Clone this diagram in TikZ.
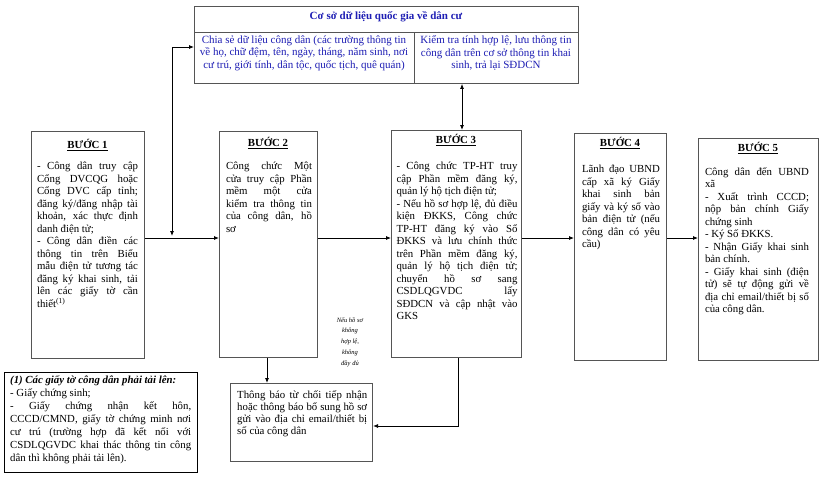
\documentclass[tikz,border=0pt]{standalone}
\usepackage{fontspec}
\setmainfont{Liberation Serif}
\usetikzlibrary{arrows.meta}
\definecolor{dbblue}{RGB}{30,30,180}
\definecolor{boxgray}{RGB}{85,85,85}
\tolerance=10000 \hyphenpenalty=10000 \exhyphenpenalty=10000
\newcommand{\bodyfs}{\fontsize{10.8}{12.5}\selectfont}
\newcommand{\dbfs}{\fontsize{11}{12.5}\selectfont}
\tikzset{
  stepbox/.style={draw=boxgray, line width=1.1pt, anchor=north west, inner sep=0pt},
  ttl/.style={font=\fontsize{10.8}{12}\selectfont\bfseries, inner sep=0pt},
  body/.style={font=\bodyfs, align=justify, inner sep=0pt, anchor=north},
  conn/.style={draw=black, line width=0.8pt},
  arr/.style={conn, -{Latex[length=5pt,width=4pt]}},
  darr/.style={conn, {Latex[length=5pt,width=4pt]}-{Latex[length=5pt,width=4pt]}},
}
\begin{document}
\begin{tikzpicture}[x=1pt,y=-1pt]
\useasboundingbox (0,0) rectangle (822,480);
\fill[white] (0,0) rectangle (822,480);

% database box
\node[draw=boxgray, line width=0.9pt, anchor=north west, minimum width=384pt, minimum height=77pt, inner sep=0pt] (db) at (194,6) {};
\coordinate (dbdivL) at (194,32);
\coordinate (dbdivR) at (578,32);
\coordinate (dbmidT) at (414,32);
\draw[draw=boxgray, line width=0.9pt] (dbdivL) -- (dbdivR);
\draw[draw=boxgray, line width=0.9pt] (dbmidT) -- (dbmidT |- db.south);
\node[font=\fontsize{11}{12}\selectfont\bfseries, text=dbblue, inner sep=0pt] (dbh) at (386,17) {Cơ sở dữ liệu quốc gia về dân cư};
\node[font=\dbfs, text=dbblue, align=center, inner sep=0pt] (dbc1) at (304,53)
  {Chia sẻ dữ liệu công dân (các trường thông tin\\về họ, chữ đệm, tên, ngày, tháng, năm sinh, nơi\\cư trú, giới tính, dân tộc, quốc tịch, quê quán)};
\node[font=\dbfs, text=dbblue, align=center, inner sep=0pt] (dbc2) at (496,53)
  {Kiểm tra tính hợp lệ, lưu thông tin\\công dân trên cơ sở thông tin khai\\sinh, trả lại SĐDCN};

% step boxes
\node[stepbox, minimum width=113pt, minimum height=227pt] (s1) at (31,131) {};
\node[stepbox, minimum width=98pt, minimum height=226pt] (s2) at (219,131) {};
\node[stepbox, minimum width=130pt, minimum height=227pt] (s3) at (391,130) {};
\node[stepbox, minimum width=92pt, minimum height=227pt] (s4) at (574,133) {};
\node[stepbox, minimum width=120pt, minimum height=222pt] (s5) at (698,138) {};

\node[ttl] (t1) at (87.5,145) {\underline{BƯỚC 1}};
\node[ttl] (t2) at (268,143) {\underline{BƯỚC 2}};
\node[ttl] (t3) at (456,140) {\underline{BƯỚC 3}};
\node[ttl] (t4) at (620,143) {\underline{BƯỚC 4}};
\node[ttl] (t5) at (758,148) {\underline{BƯỚC 5}};

\node[body, text width=101pt] (b1) at (87.5,162) {%
- Công dân truy cập\linebreak Cổng DVCQG hoặc\linebreak Cổng DVC cấp tỉnh;\linebreak đăng ký/đăng nhập tài\linebreak khoản, xác thực định\linebreak danh điện tử;\par
- Công dân điền các\linebreak thông tin trên Biểu\linebreak mẫu điện tử tương tác\linebreak đăng ký khai sinh, tải\linebreak lên các giấy tờ cần\linebreak thiết\textsuperscript{(1)}};

\node[body, text width=86pt] (b2) at (269,162) {%
Công chức Một\linebreak cửa truy cập Phần\linebreak mềm một cửa\linebreak kiểm tra thông tin\linebreak của công dân, hồ\linebreak sơ};

\node[body, text width=121pt] (b3) at (457,162) {%
- Công chức TP-HT truy\linebreak cập Phần mềm đăng ký,\linebreak quản lý hộ tịch điện tử;\par
- Nếu hồ sơ hợp lệ, đủ điều\linebreak kiện ĐKKS, Công chức\linebreak TP-HT đăng ký vào Sổ\linebreak ĐKKS và lưu chính thức\linebreak trên Phần mềm đăng ký,\linebreak quản lý hộ tịch điện tử;\linebreak chuyển hồ sơ sang\linebreak CSDLQGVDC lấy\linebreak SĐDCN và cập nhật vào\linebreak GKS};

\node[body, text width=78pt] (b4) at (621,165) {%
Lãnh đạo UBND\linebreak cấp xã ký Giấy\linebreak khai sinh bản\linebreak giấy và ký số vào\linebreak bản điện tử (nếu\linebreak công dân có yêu\linebreak cầu)};

\node[body, text width=104pt] (b5) at (757,167) {%
Công dân đến UBND\linebreak xã\par
- Xuất trình CCCD;\linebreak nộp bản chính Giấy\linebreak chứng sinh\par
- Ký Số ĐKKS.\par
- Nhận Giấy khai sinh\linebreak bản chính.\par
- Giấy khai sinh (điện\linebreak tử) sẽ tự động gửi về\linebreak địa chỉ email/thiết bị số\linebreak của công dân.};

% notification box
\node[draw=boxgray, line width=1.1pt, anchor=north west, minimum width=142pt, minimum height=78pt, inner sep=0pt] (nt) at (230,383) {};
\node[font=\fontsize{10.8}{12}\selectfont, align=justify, text width=130pt, inner sep=0pt, anchor=north west] (ntt) at (237,390) {%
Thông báo từ chối tiếp nhận\linebreak hoặc thông báo bổ sung hồ sơ\linebreak gửi vào địa chỉ email/thiết bị\linebreak số của công dân};

% footnote box
\node[draw=black, line width=1.3pt, anchor=north west, minimum width=193pt, minimum height=100pt, inner sep=0pt] (fn) at (4,372) {};
\node[font=\fontsize{10.8}{13.1}\selectfont, align=justify, text width=181pt, inner sep=0pt, anchor=north west] (fnt) at (10,375) {%
\textbf{\textit{(1) Các giấy tờ công dân phải tải lên:}}\par
- Giấy chứng sinh;\par
- Giấy chứng nhận kết hôn,\linebreak CCCD/CMND, giấy tờ chứng minh nơi\linebreak cư trú (trường hợp đã kết nối với\linebreak CSDLQGVDC khai thác thông tin công\linebreak dân thì không phải tải lên).};

% label
\node[font=\fontsize{6.5}{10.8}\selectfont\itshape, align=center, inner sep=0pt] (lbl) at (350,342) {Nếu hồ sơ\\không\\hợp lệ,\\không\\đầy đủ};

% connectors
\coordinate (yline) at (0,238);
\draw[arr] (s1.east |- yline) -- (s2.west |- yline);
\draw[arr] (s2.east |- yline) -- (s3.west |- yline);
\draw[arr] (s3.east |- yline) -- (s4.west |- yline);
\draw[arr] (s4.east |- yline) -- (s5.west |- yline);

\coordinate (j1) at (172,236);
\coordinate (dbL) at (194,47);
\draw[darr] (j1) |- (dbL);

\coordinate (xc) at (462,0);
\draw[darr] (db.south -| xc) -- (s3.north -| xc);

\coordinate (k) at (458,426);
\draw[arr] (s3.south -| k) -- (k) -- (nt.east |- k);

\coordinate (xs2) at (267,0);
\draw[arr] (s2.south -| xs2) -- (nt.north -| xs2);
\end{tikzpicture}
\end{document}
